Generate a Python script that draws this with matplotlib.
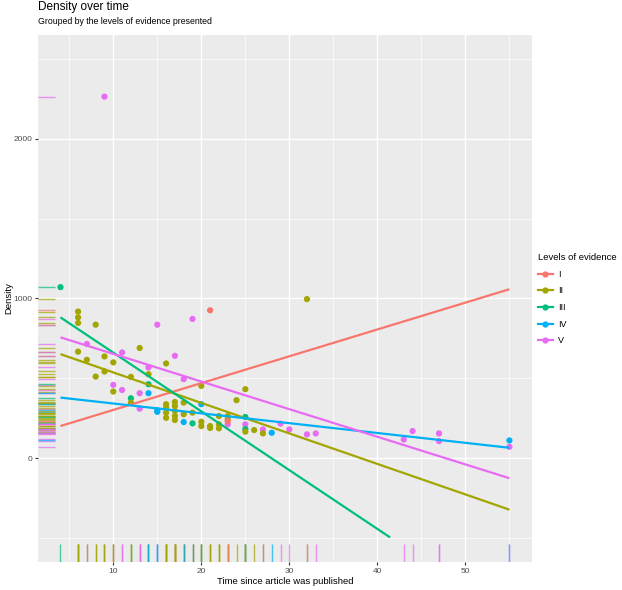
import numpy as np
import matplotlib
matplotlib.use("Agg")
import matplotlib.pyplot as plt
from matplotlib.lines import Line2D

plt.rcParams['font.family'] = ['Liberation Sans', 'DejaVu Sans']

# ---- data ----
levels = ["I", "II", "III", "IV", "V"]
level_colors = ["#F8766D", "#A3A500", "#00BF7D", "#00B0F6", "#E76BF3"]

years = [4, 6, 6, 6, 6, 7, 7, 8, 8, 9, 9, 9, 10, 10, 10, 11, 11,
         12, 12, 12, 13, 13, 13, 14, 14, 14, 14, 15, 15, 15,
         16, 16, 16, 16, 16, 17, 17, 17, 17, 17, 17,
         18, 18, 18, 18, 19, 19, 19, 20, 20, 20, 20,
         21, 21, 21, 22, 22, 22, 23, 23, 23, 23, 24,
         25, 25, 25, 25, 25, 26, 27, 27, 28, 29, 30, 32, 32, 33,
         43, 44, 47, 47, 55, 55]
density = [1071, 918, 882, 847, 667, 715, 616, 836, 511, 2264, 637, 543, 459, 600, 417, 427, 662,
           375, 509, 348, 690, 407, 310, 568, 526, 463, 407, 836, 300, 290,
           593, 338, 317, 285, 253, 641, 352, 327, 296, 264, 239,
           495, 348, 275, 226, 872, 285, 218, 453, 228, 201, 338,
           926, 201, 189, 264, 212, 187, 212, 264, 243, 230, 363,
           258, 212, 182, 432, 166, 176, 180, 155, 159, 216, 180, 996, 149, 155,
           117, 170, 155, 107, 111, 71]
level = ["III", "II", "II", "II", "II", "V", "II", "II", "II", "V", "II", "II", "V", "II", "II", "V", "V",
         "III", "II", "II", "II", "V", "V", "V", "II", "III", "IV", "V", "IV", "IV",
         "II", "II", "II", "II", "II", "V", "II", "II", "II", "II", "II",
         "V", "II", "II", "IV", "V", "II", "III", "II", "II", "II", "IV",
         "I", "II", "II", "II", "II", "II", "V", "II", "II", "I", "II",
         "III", "V", "III", "II", "II", "II", "V", "II", "IV", "V", "V", "II", "V", "V",
         "V", "V", "V", "V", "IV", "V"]

# linear fits per level (intercept, slope)
fit_intercept = [134, 728, 1029, 404, 826]
fit_slope = [16.8, -19.1, -36.8, -6.16, -17.3]

x_ticks = [10, 20, 30, 40, 50]
y_ticks = [0, 1000, 2000]
y_limits = (-500, 2500)

# ---- figure ----
fig = plt.figure(figsize=(6.22, 5.90), dpi=100)
ax = fig.add_axes([0.0611, 0.0475, 0.7940, 0.8932])
ax.set_facecolor("#EBEBEB")
for s in ax.spines.values():
    s.set_visible(False)

years_a = np.array(years, dtype=float)
dens_a = np.array(density, dtype=float)
col_map = dict(zip(levels, level_colors))
cols = [col_map[l] for l in level]

xmin, xmax = years_a.min(), years_a.max()
xr = xmax - xmin
ax.set_xlim(xmin - 0.05 * xr, xmax + 0.05 * xr)
yr = y_limits[1] - y_limits[0]
ax.set_ylim(y_limits[0] - 0.05 * yr, y_limits[1] + 0.05 * yr)

# grid
ax.set_xticks(x_ticks)
ax.set_xticks([5, 15, 25, 35, 45, 55], minor=True)
ax.set_yticks(y_ticks)
ax.set_yticks([-500, 500, 1500, 2500], minor=True)
ax.grid(which="major", color="white", lw=1.0)
ax.grid(which="minor", color="white", lw=0.5)
ax.set_axisbelow(True)

# points
ax.scatter(years_a, dens_a, c=cols, s=20, linewidths=0, zorder=3)

# fitted lines
xs = np.linspace(xmin, xmax, 80)
for lv, b0, b1, c in zip(levels, fit_intercept, fit_slope, level_colors):
    ys = b0 + b1 * xs
    m = (ys >= y_limits[0]) & (ys <= y_limits[1])
    ax.plot(xs[m], ys[m], color=c, lw=1.6, zorder=4, solid_capstyle="butt")

# rugs
rug_len = 0.035
for x, y, c in zip(years_a, dens_a, cols):
    ax.plot([x, x], [0, rug_len], transform=ax.get_xaxis_transform(),
            color=c, lw=1.0, alpha=0.7, zorder=2, solid_capstyle="butt")
    ax.plot([0, rug_len], [y, y], transform=ax.get_yaxis_transform(),
            color=c, lw=1.0, alpha=0.7, zorder=2, solid_capstyle="butt")

# ticks
ax.tick_params(which="major", length=2.5, width=0.8, color="#333333",
               labelsize=6, labelcolor="#4D4D4D", pad=1.5)
ax.tick_params(which="minor", length=0)
ax.set_xlabel("")
ax.set_ylabel("")
fig.text(285 / 622, 1 - 582 / 590, "Time since article was published", fontsize=6.8,
         ha="center", va="center")
fig.text(9 / 622, 1 - 298 / 590, "Density", fontsize=6.8, rotation=90,
         ha="center", va="center")

# titles
fig.text(38 / 622, 1 - 7 / 590, "Density over time", fontsize=8.5, va="center", ha="left")
fig.text(38 / 622, 1 - 22 / 590, "Grouped by the levels of evidence presented", fontsize=6.3,
         va="center", ha="left")

# legend
handles = [Line2D([0], [0], color=c, lw=1.6, marker="o", markersize=4.5,
                  markeredgewidth=0) for c in level_colors]
leg = fig.legend(handles, levels, title="Levels of evidence", loc="upper left",
                 bbox_to_anchor=(530 / 622, 1 - 245 / 590), frameon=False,
                 fontsize=6.5, title_fontsize=6.8, handlelength=1.6,
                 labelspacing=0.85, handletextpad=0.6)
leg._legend_box.align = "left"

fig.savefig("out.png", dpi=100)
